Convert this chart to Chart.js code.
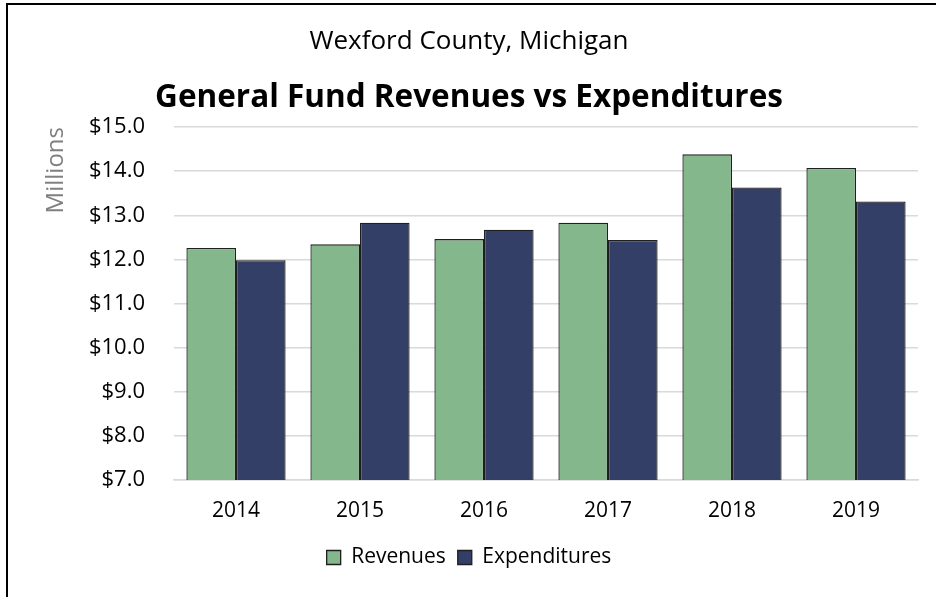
<!DOCTYPE html>
<html>
<head>
<meta charset="utf-8">
<script src="https://cdn.jsdelivr.net/npm/chart.js@4.4.0/dist/chart.umd.min.js"></script>
<style>
  html, body { margin: 0; padding: 0; background: #fff; overflow: hidden; }
  #frame { position: absolute; left: 6px; top: 3px; width: 1000px; height: 1000px; border: 2px solid #000; }
  #wrap { position: absolute; left: 0; top: 0; width: 936px; height: 597px; }
</style>
</head>
<body>
<div id="frame"></div>
<div id="wrap"><canvas id="chart"></canvas></div>
<script>
// Data (millions of dollars)
const years = ['2014', '2015', '2016', '2017', '2018', '2019'];
const revenues = [12.26, 12.34, 12.46, 12.83, 14.38, 14.07];
const expenditures = [11.98, 12.83, 12.67, 12.44, 13.63, 13.31];

const FONT = "'Open Sans', 'Noto Sans', sans-serif";

const ctx = document.getElementById('chart').getContext('2d');

new Chart(ctx, {
  type: 'bar',
  data: {
    labels: years,
    datasets: [
      {
        label: 'Revenues',
        data: revenues,
        backgroundColor: '#84b78c',
        borderColor: '#1f1f1f',
        borderWidth: 1.3
      },
      {
        label: 'Expenditures',
        data: expenditures,
        backgroundColor: '#343f68',
        borderColor: '#1f1f1f',
        borderWidth: 1.3
      }
    ]
  },
  options: {
    responsive: true,
    maintainAspectRatio: false,
    animation: false,
    layout: {
      padding: { left: 20, right: 18, top: 0, bottom: 19 }
    },
    datasets: {
      bar: {
        categoryPercentage: 0.8,
        barPercentage: 1.0
      }
    },
    scales: {
      x: {
        grid: { display: false },
        border: { color: '#d9d9d9', width: 1.5 },
        ticks: {
          color: '#000',
          font: { family: FONT, size: 21, lineHeight: 1.0 },
          padding: 13
        }
      },
      y: {
        min: 7,
        max: 15,
        // fixed axis width so the plot starts where the reference does
        afterFit: function(scale) {
          scale.width = 154;
        },
        ticks: {
          stepSize: 1,
          color: '#000',
          font: { family: FONT, size: 22 },
          padding: 29,
          callback: function(value) {
            return '$' + value.toFixed(1);
          }
        },
        grid: { color: '#d9d9d9', lineWidth: 1.5, drawTicks: false },
        border: { display: false },
        title: {
          display: true,
          text: 'Millions',
          align: 'end',
          color: '#808080',
          font: { family: FONT, size: 24 },
          padding: { top: 22, bottom: 0 }
        }
      }
    },
    plugins: {
      title: {
        display: true,
        text: 'Wexford County, Michigan',
        color: '#000',
        font: { family: FONT, size: 26, weight: 'normal' },
        padding: { top: 26, bottom: 22 }
      },
      subtitle: {
        display: true,
        text: 'General Fund Revenues vs Expenditures',
        color: '#000',
        font: { family: FONT, size: 31.5, weight: 'bold' },
        padding: { top: 0, bottom: 10 }
      },
      legend: {
        position: 'bottom',
        labels: {
          color: '#000',
          font: { family: FONT, size: 21 },
          boxWidth: 14,
          boxHeight: 14,
          padding: 12
        }
      },
      tooltip: { enabled: false }
    }
  }
});
</script>
</body>
</html>
